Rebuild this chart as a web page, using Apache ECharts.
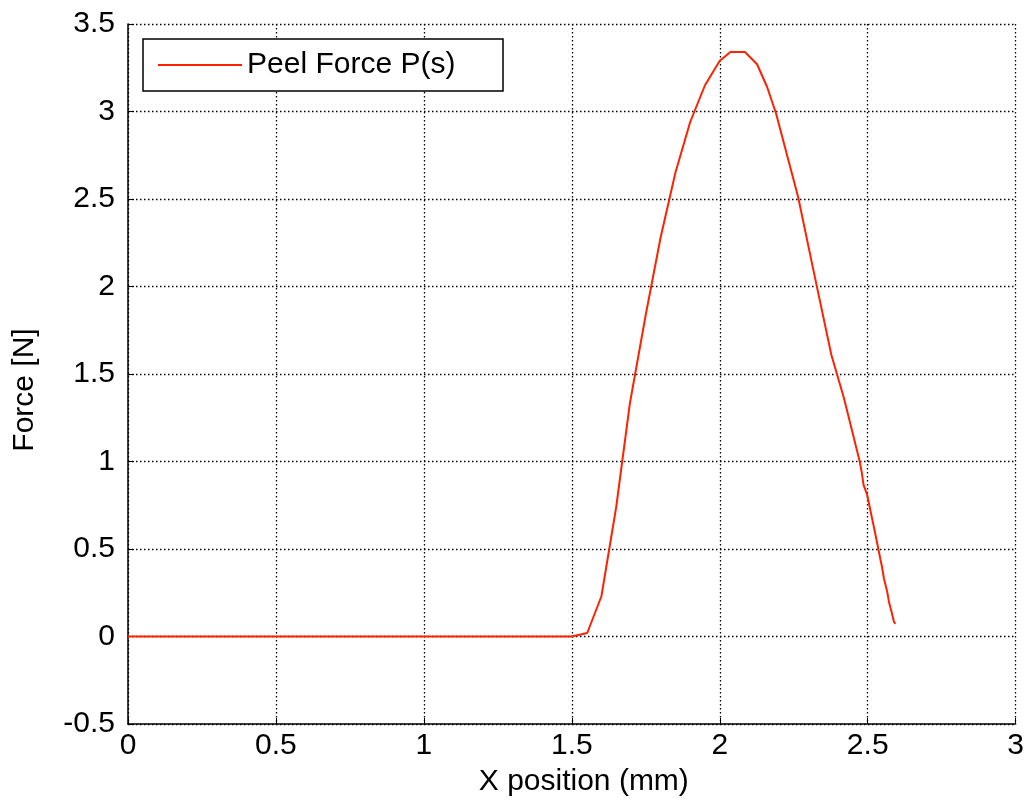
<!DOCTYPE html>
<html>
<head>
<meta charset="utf-8">
<script src="https://cdn.jsdelivr.net/npm/echarts@6/dist/echarts.min.js"></script>
<style>
  html, body { margin: 0; padding: 0; background: #fff; }
  #chart { width: 1027px; height: 804px; }
</style>
</head>
<body>
<div id="chart"></div>
<script>
// Peel force along the X position
const xPos = [0, 1.5, 1.552, 1.600, 1.65, 1.696, 1.75, 1.8, 1.85, 1.9, 1.95, 2.0, 2.036, 2.085,
  2.126, 2.16, 2.19, 2.265, 2.315, 2.377, 2.42, 2.473, 2.479, 2.486, 2.498, 2.524,
  2.543, 2.548, 2.555, 2.566, 2.569, 2.572, 2.581, 2.585, 2.589, 2.594];
const force = [0, 0, 0.02, 0.23, 0.74, 1.33, 1.84, 2.28, 2.65, 2.94, 3.15, 3.29, 3.34, 3.34,
  3.27, 3.14, 2.99, 2.51, 2.105, 1.61, 1.36, 1.0, 0.946, 0.866, 0.81, 0.60,
  0.44, 0.40, 0.33, 0.255, 0.244, 0.196, 0.139, 0.130, 0.082, 0.073];
const xTicks = [0, 0.5, 1, 1.5, 2, 2.5, 3];
const yTicks = [-0.5, 0, 0.5, 1, 1.5, 2, 2.5, 3, 3.5];
const seriesName = 'Peel Force P(s)';

const FONT = 'Liberation Sans';
const FS = 30;
const RED = '#ff2200';
const gridDots = { color: '#000', width: 1.3, type: [1.5, 2.5] };

const chart = echarts.init(document.getElementById('chart'), null, { renderer: 'canvas' });
chart.setOption({
  animation: false,
  textStyle: { fontFamily: FONT },
  grid: { left: 128, top: 24, right: 10, bottom: 80, containLabel: false },
  legend: {
    left: 143, top: 39,
    data: [seriesName],
    icon: 'rect',
    itemWidth: 84, itemHeight: 2, itemGap: 8,
    padding: [10, 15, 10, 15],
    borderColor: '#000', borderWidth: 1.5,
    backgroundColor: '#fff',
    itemStyle: { color: RED },
    textStyle: { fontSize: FS, color: '#000', fontFamily: FONT, width: 241, lineHeight: 32 }
  },
  xAxis: {
    type: 'value',
    min: xTicks[0], max: xTicks[xTicks.length - 1], interval: 0.5,
    name: 'X position (mm)', nameLocation: 'middle', nameGap: 43,
    nameTextStyle: { fontSize: FS, color: '#000', fontFamily: FONT, padding: [0, 0, 0, 24] },
    axisLine: { show: true, onZero: false, lineStyle: { color: '#000', width: 1.5 } },
    axisTick: { show: true, inside: true, length: 6, lineStyle: { color: '#000', width: 1 } },
    axisLabel: { fontSize: FS, color: '#000', margin: 7, fontFamily: FONT },
    splitLine: { show: true, lineStyle: gridDots }
  },
  yAxis: {
    type: 'value',
    min: yTicks[0], max: yTicks[yTicks.length - 1], interval: 0.5,
    name: 'Force [N]', nameLocation: 'middle', nameGap: 88, nameRotate: 90,
    nameTextStyle: { fontSize: FS, color: '#000', fontFamily: FONT, padding: [0, 32, 0, 0] },
    axisLine: { show: true, onZero: false, lineStyle: { color: '#000', width: 1.5 } },
    axisTick: { show: true, inside: true, length: 6, lineStyle: { color: '#000', width: 1 } },
    axisLabel: { fontSize: FS, color: '#000', margin: 13, fontFamily: FONT },
    splitLine: { show: true, lineStyle: gridDots }
  },
  series: [{
    name: seriesName,
    type: 'line',
    data: xPos.map((x, i) => [x, force[i]]),
    showSymbol: false,
    lineStyle: { color: RED, width: 2 },
    itemStyle: { color: RED }
  }]
});
</script>
</body>
</html>
